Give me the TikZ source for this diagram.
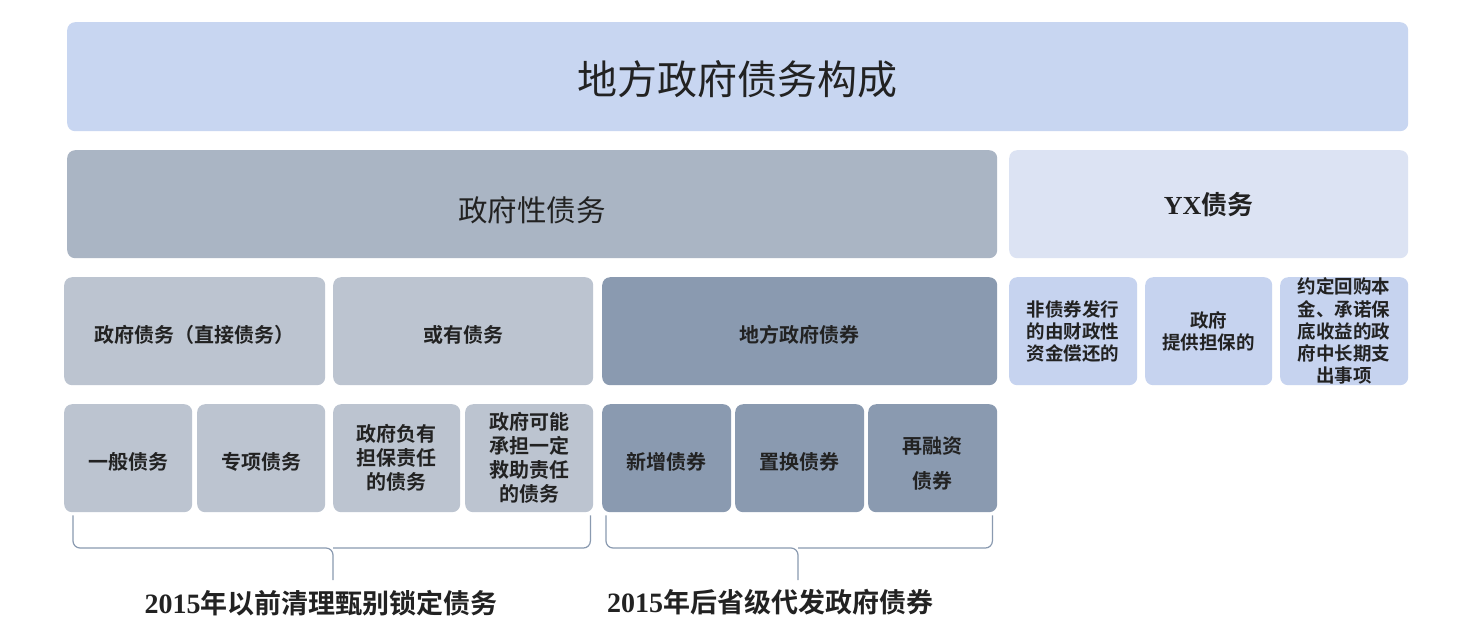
\documentclass[tikz,border=0pt]{standalone}
\usepackage{fontspec}
\newfontfamily\cjk{Noto Sans CJK SC}[BoldFont={Noto Sans CJK SC Bold}]
\newfontfamily\ser{Liberation Serif}
\definecolor{ctop}{HTML}{C8D6F1}
\definecolor{cgov}{HTML}{AAB5C4}
\definecolor{cyx}{HTML}{DCE3F3}
\definecolor{clight}{HTML}{BCC4D0}
\definecolor{cdark}{HTML}{8A9AB0}
\definecolor{cyxs}{HTML}{C6D3EF}
\definecolor{ctext}{HTML}{222222}
\definecolor{cbrace}{HTML}{8A9AB0}
\tikzset{
  box/.style={rounded corners=8pt, anchor=north west, inner sep=0pt, align=center, text=ctext},
  small/.style={box, font=\cjk\bfseries\fontsize{20}{24}\selectfont},
  low/.style={text height=#1, text depth=2pt},
  yxs/.style={box, fill=cyxs, minimum width=128pt, minimum height=108pt, font=\cjk\bfseries\fontsize{18.5}{22.2}\selectfont},
  brc/.style={draw=cbrace, line width=1.2pt, rounded corners=7pt},
  lbl/.style={font=\cjk\bfseries\fontsize{27}{30}\selectfont, text=ctext, inner sep=0pt}
}
\begin{document}
\begin{tikzpicture}[x=1pt,y=-1pt]
\useasboundingbox (0,0) rectangle (1470,630);
\fill[white] (0,0) rectangle (1470,630);
% top
\node[box, fill=ctop, minimum width=1341pt, minimum height=109pt, font=\cjk\fontsize{40}{44}\selectfont, low=38pt] (top) at (67,22) {地方政府债务构成};
% row 2
\node[box, fill=cgov, minimum width=930pt, minimum height=108pt, font=\cjk\fontsize{29.5}{32}\selectfont, low=37pt] (gov) at (67,150) {政府性债务};
\node[box, fill=cyx, minimum width=399pt, minimum height=108pt, font=\cjk\bfseries\fontsize{26}{30}\selectfont] (yx) at (1009,150) {{\ser\bfseries YX}债务};
% row 3
\node[small, fill=clight, minimum width=261pt, minimum height=108pt, low=25pt] (direct) at (64,277) {政府债务（直接债务）};
\node[small, fill=clight, minimum width=260pt, minimum height=108pt, low=25pt] (contin) at (333,277) {或有债务};
\node[small, fill=cdark, minimum width=395pt, minimum height=108pt, low=25pt] (bond) at (602,277) {地方政府债券};
\node[yxs, minimum width=128pt] (yx1) at (1009,277) {非债券发行\\的由财政性\\资金偿还的};
\node[yxs, minimum width=127pt] (yx2) at (1145,277) {政府\\提供担保的};
\node[yxs, minimum width=128pt] (yx3) at (1280,277) {约定回购本\\金、承诺保\\底收益的政\\府中长期支\\出事项};
% row 4
\node[small, fill=clight, minimum width=128pt, minimum height=108pt, low=25pt] (gen) at (64,404) {一般债务};
\node[small, fill=clight, minimum width=128pt, minimum height=108pt, low=25pt] (spec) at (197,404) {专项债务};
\node[small, fill=clight, minimum width=127pt, minimum height=108pt] (guar) at (333,404) {政府负有\\担保责任\\的债务};
\node[small, fill=clight, minimum width=128pt, minimum height=108pt] (rescue) at (465,404) {政府可能\\承担一定\\救助责任\\的债务};
\node[small, fill=cdark, minimum width=129pt, minimum height=108pt, low=25pt] (new) at (602,404) {新增债券};
\node[small, fill=cdark, minimum width=129pt, minimum height=108pt, low=25pt] (repl) at (735,404) {置换债券};
\node[small, fill=cdark, minimum width=129pt, minimum height=108pt, font=\cjk\bfseries\fontsize{20}{35}\selectfont] (refi) at (868,404) {\rule{0pt}{28pt}再融资\\债券};
% labels
\node[lbl] (lab1) at (321,603) {{\ser\bfseries\fontsize{28}{30}\selectfont 2015}年以前清理甄别锁定债务};
\node[lbl] (lab2) at (770,602) {{\ser\bfseries\fontsize{28}{30}\selectfont 2015}年后省级代发政府债券};
% braces
\coordinate (b1a) at ([xshift=9pt,yshift=-3pt]gen.south west);
\coordinate (b1b) at ([xshift=-3pt,yshift=-3pt]rescue.south east);
\coordinate (b1m) at (333,580);
\coordinate (b2a) at ([xshift=4pt,yshift=-3pt]new.south west);
\coordinate (b2b) at ([xshift=-5pt,yshift=-3pt]refi.south east);
\coordinate (b2m) at (798,580);
\draw[brc] (b1a) -- (b1a |- 0,548) -- (b1m |- 0,548) -- (b1m);
\draw[brc] (b1b) -- (b1b |- 0,548) -- (b1m |- 0,548);
\draw[brc] (b2a) -- (b2a |- 0,548) -- (b2m |- 0,548) -- (b2m);
\draw[brc] (b2b) -- (b2b |- 0,548) -- (b2m |- 0,548);
\end{tikzpicture}
\end{document}
